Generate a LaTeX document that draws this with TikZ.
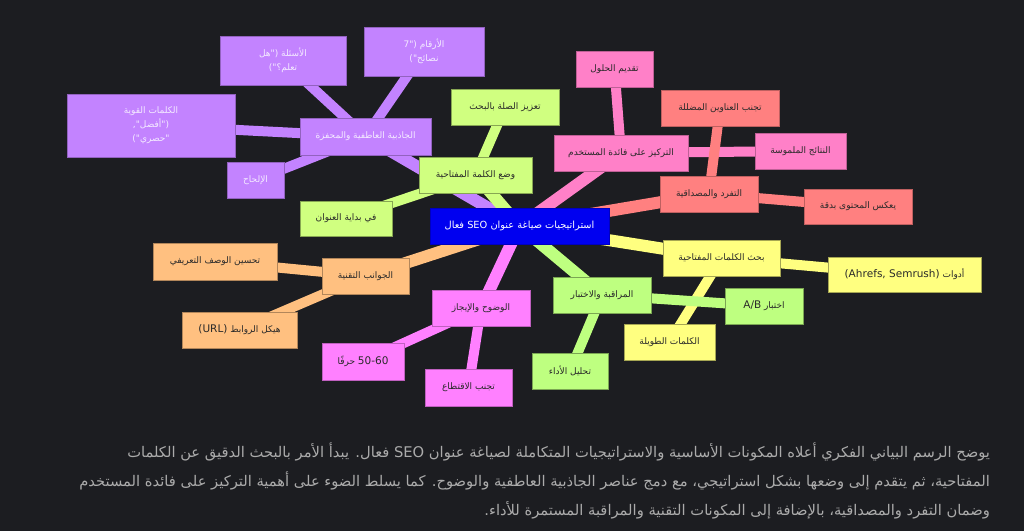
\documentclass[tikz,border=0pt]{standalone}
\usepackage{fontspec}
\setmainfont{DejaVu Sans}
\newfontfamily\arfont[Script=Arabic]{DejaVu Sans}
\TeXXeTstate=1
\definecolor{bgc}{HTML}{1C1D21}
\definecolor{cpur}{HTML}{C383FF}
\definecolor{cpurtxt}{HTML}{F4EAFF}
\definecolor{ckw}{HTML}{D0FF80}
\definecolor{cmon}{HTML}{BEFF80}
\definecolor{cpink}{HTML}{FF80C8}
\definecolor{csal}{HTML}{FF8080}
\definecolor{cyel}{HTML}{FFFF80}
\definecolor{cora}{HTML}{FFC080}
\definecolor{cmag}{HTML}{FF80FF}
\definecolor{croot}{HTML}{0000F0}
\definecolor{ctxt}{HTML}{2A2A2A}
\definecolor{cpara}{HTML}{ABABAB}
\newcommand\rtx[1]{\beginR #1\endR}
\pgfdeclarelayer{bgl}
\pgfdeclarelayer{edges}
\pgfsetlayers{bgl,edges,main}
\tikzset{
  nd/.style={rectangle, inner sep=0pt, align=center, line width=0.7pt,
    font=\arfont\fontsize{9}{14}\selectfont, text=ctxt},
  pur/.style={nd, fill=cpur, draw=cpur!75!black, text=cpurtxt},
  kw/.style={nd, fill=ckw, draw=ckw!65!black},
  mon/.style={nd, fill=cmon, draw=cmon!65!black},
  pink/.style={nd, fill=cpink, draw=cpink!75!black},
  sal/.style={nd, fill=csal, draw=csal!75!black},
  yel/.style={nd, fill=cyel, draw=cyel!65!black},
  ora/.style={nd, fill=cora, draw=cora!70!black},
  mag/.style={nd, fill=cmag, draw=cmag!75!black},
  rootbox/.style={nd, fill=croot, draw=croot!80!black, text=white,
    font=\arfont\fontsize{9.8}{14}\selectfont},
  e1/.style={line width=12pt},
  e2/.style={line width=10pt},
  ptext/.style={inner sep=0pt, text=cpara, font=\arfont\fontsize{14.7}{18}\selectfont}
}
\begin{document}
\begin{tikzpicture}[x=1pt,y=-1pt]
\begin{pgfonlayer}{bgl}
\fill[bgc] (0,0) rectangle (1024,531);
\end{pgfonlayer}
\useasboundingbox (0,0) rectangle (1024,531);

% root
\node[rootbox, minimum width=179pt, minimum height=36pt] (root) at (519.5,226) {\rtx{استراتيجيات صياغة عنوان SEO فعال}};

% purple branch
\node[pur, minimum width=131pt, minimum height=37pt] (ph) at (365.5,136.5) {\rtx{الجاذبية العاطفية والمحفزة}};
\node[pur, minimum width=126pt, minimum height=49pt] (pq) at (283,60.5) {\rtx{الأسئلة ("هل}\\\rtx{تعلم؟")}};
\node[pur, minimum width=120pt, minimum height=49pt] (pn) at (424,51.5) {\rtx{الأرقام ("7}\\\rtx{نصائح")}};
\node[pur, minimum width=168pt, minimum height=63pt] (pk) at (151,125.5) {\rtx{الكلمات القوية}\\\rtx{("أفضل",}\\\rtx{"حصري")}};
\node[pur, minimum width=57pt, minimum height=36pt] (pu) at (255.5,180) {\rtx{الإلحاح}};

% keyword placement
\node[kw, minimum width=113pt, minimum height=36pt] (kh) at (475.5,175) {\rtx{وضع الكلمة المفتاحية}};
\node[kw, minimum width=108pt, minimum height=36pt] (kt) at (505,107) {\rtx{تعزيز الصلة بالبحث}};
\node[kw, minimum width=92pt, minimum height=35pt] (kb) at (346,218.5) {\rtx{في بداية العنوان}};

% user benefit
\node[pink, minimum width=134pt, minimum height=36pt] (uh) at (621,153) {\rtx{التركيز على فائدة المستخدم}};
\node[pink, minimum width=77pt, minimum height=36pt] (us) at (614.5,69) {\rtx{تقديم الحلول}};
\node[pink, minimum width=91pt, minimum height=36pt] (ur) at (800.5,151) {\rtx{النتائج الملموسة}};

% uniqueness
\node[sal, minimum width=98pt, minimum height=36pt] (sh) at (709,194) {\rtx{التفرد والمصداقية}};
\node[sal, minimum width=118pt, minimum height=36pt] (sa) at (720,108) {\rtx{تجنب العناوين المضللة}};
\node[sal, minimum width=108pt, minimum height=35pt] (sr) at (858,206.5) {\rtx{يعكس المحتوى بدقة}};

% keyword research
\node[yel, minimum width=117pt, minimum height=36pt] (yh) at (721.5,258) {\rtx{بحث الكلمات المفتاحية}};
\node[yel, minimum width=153pt, minimum height=35pt] (yt) at (904.5,274.5) {\rtx{أدوات \beginL{\fontsize{10.5}{14}\selectfont(Ahrefs, Semrush)}\endL}};
\node[yel, minimum width=91pt, minimum height=36pt] (yl) at (669.5,342) {\rtx{الكلمات الطويلة}};

% monitoring
\node[mon, minimum width=98pt, minimum height=36pt] (gh) at (602,295) {\rtx{المراقبة والاختبار}};
\node[mon, minimum width=78pt, minimum height=36pt] (ga) at (764,306) {\rtx{اختبار \beginL{\fontsize{10.5}{14}\selectfont A/B}\endL}};
\node[mon, minimum width=76pt, minimum height=36pt] (gp) at (570,371) {\rtx{تحليل الأداء}};

% technical
\node[ora, minimum width=87pt, minimum height=36pt] (oh) at (365.5,276) {\rtx{الجوانب التقنية}};
\node[ora, minimum width=124pt, minimum height=37pt] (om) at (215,261.5) {\rtx{تحسين الوصف التعريفي}};
\node[ora, minimum width=115pt, minimum height=36pt] (ou) at (239.5,330) {\rtx{هيكل الروابط \beginL{\fontsize{10.5}{14}\selectfont(URL)}\endL}};

% clarity
\node[mag, minimum width=98pt, minimum height=36pt] (mh) at (481,308) {\rtx{الوضوح والإيجاز}};
\node[mag, minimum width=82pt, minimum height=37pt] (m5) at (363,361.5) {\rtx{\beginL{\fontsize{10.5}{14}\selectfont 50-60}\endL{} حرفًا}};
\node[mag, minimum width=87pt, minimum height=37pt] (mt) at (468.5,387.5) {\rtx{تجنب الاقتطاع}};

\begin{pgfonlayer}{edges}
\draw[e1, cpur] (root.center) -- (ph.center);
\draw[e2, cpur] (ph.center) -- (pq.center);
\draw[e2, cpur] (ph.center) -- (pn.center);
\draw[e2, cpur] (ph.center) -- (pk.center);
\draw[e2, cpur] (ph.center) -- (pu.center);
\draw[e1, ckw] (root.center) -- (kh.center);
\draw[e2, ckw] (kh.center) -- (kt.center);
\draw[e2, ckw] (kh.center) -- (kb.center);
\draw[e1, cpink] (root.center) -- (uh.center);
\draw[e2, cpink] (uh.center) -- (us.center);
\draw[e2, cpink] (uh.center) -- (ur.center);
\draw[e1, csal] (root.center) -- (sh.center);
\draw[e2, csal] (sh.center) -- (sa.center);
\draw[e2, csal] (sh.center) -- (sr.center);
\draw[e1, cyel] (root.center) -- (yh.center);
\draw[e2, cyel] (yh.center) -- (yt.center);
\draw[e2, cyel] (yh.center) -- (yl.center);
\draw[e1, cmon] (root.center) -- (gh.center);
\draw[e2, cmon] (gh.center) -- (ga.center);
\draw[e2, cmon] (gh.center) -- (gp.center);
\draw[e1, cora] (root.center) -- (oh.center);
\draw[e2, cora] (oh.center) -- (om.center);
\draw[e2, cora] (oh.center) -- (ou.center);
\draw[e1, cmag] (root.center) -- (mh.center);
\draw[e2, cmag] (mh.center) -- (m5.center);
\draw[e2, cmag] (mh.center) -- (mt.center);
\end{pgfonlayer}

% paragraph
\node[ptext, anchor=base east] (p1) at (990,457) {\rtx{يوضح الرسم البياني الفكري أعلاه المكونات الأساسية والاستراتيجيات المتكاملة لصياغة عنوان SEO فعال. يبدأ الأمر بالبحث الدقيق عن الكلمات}};
\node[ptext, anchor=base east] (p2) at (990,486) {\rtx{المفتاحية، ثم يتقدم إلى وضعها بشكل استراتيجي، مع دمج عناصر الجاذبية العاطفية والوضوح. كما يسلط الضوء على أهمية التركيز على فائدة المستخدم}};
\node[ptext, anchor=base east] (p3) at (990,515) {\rtx{وضمان التفرد والمصداقية، بالإضافة إلى المكونات التقنية والمراقبة المستمرة للأداء.}};
\end{tikzpicture}
\end{document}
